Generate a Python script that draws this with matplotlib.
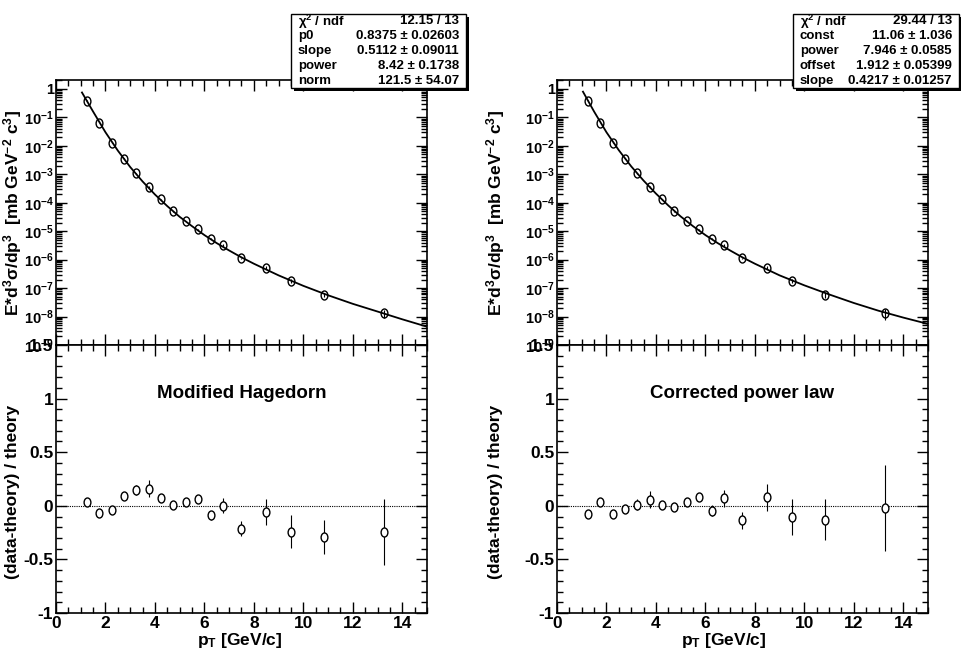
import numpy as np
import matplotlib
matplotlib.use('Agg')
import matplotlib.pyplot as plt
from matplotlib.ticker import FixedLocator, MultipleLocator, LogLocator, NullFormatter
from matplotlib.markers import MarkerStyle
from matplotlib.transforms import Affine2D
from matplotlib.patches import Rectangle

# measured points (same data in both panels)
pt = [1.25, 1.75, 2.25, 2.75, 3.25, 3.75, 4.25, 4.75, 5.25, 5.75, 6.25, 6.75,
      7.5, 8.5, 9.5, 10.85, 13.25]
xsec = [0.39, 0.064, 0.013, 3.5e-3, 1.07e-3, 3.7e-4, 1.3e-4, 5.0e-5, 2.3e-5,
        1.16e-5, 5.4e-6, 3.2e-6, 1.1e-6, 5.2e-7, 1.8e-7, 5.6e-8, 1.3e-8]

# residuals (data-theory)/theory and their errors
res_hag = [0.04, -0.063, -0.04, 0.09, 0.147, 0.159, 0.075, 0.012, 0.031, 0.059,
           -0.09, 0.0, -0.215, -0.06, -0.24, -0.29, -0.243]
err_hag = [0.02, 0.02, 0.02, 0.03, 0.05, 0.08, 0.03, 0.03, 0.03, 0.03,
           0.04, 0.07, 0.07, 0.12, 0.15, 0.16, 0.31]
res_pow = [-0.075, 0.04, -0.075, -0.031, 0.012, 0.056, 0.006, -0.012, 0.031, 0.084,
           -0.044, 0.069, -0.134, 0.078, -0.103, -0.131, -0.022]
err_pow = [0.02, 0.02, 0.02, 0.03, 0.05, 0.08, 0.03, 0.03, 0.03, 0.03,
           0.05, 0.08, 0.08, 0.13, 0.17, 0.19, 0.40]

# fit curves
curve_pt = [1.05, 1.5, 2.0, 2.5, 3.0, 3.5, 4.0, 4.5, 5.0, 5.5, 6.0, 6.5, 7.0, 7.5,
            8.0, 9.0, 10.0, 11.0, 12.0, 13.0, 14.0, 15.0]
curve_hag = [0.75, 0.16, 0.030, 6.8e-3, 1.8e-3, 5.6e-4, 1.95e-4, 7.6e-5, 3.2e-5, 1.5e-5,
             7.3e-6, 3.8e-6, 2.1e-6, 1.2e-6, 7.2e-7, 2.8e-7, 1.2e-7, 5.6e-8, 2.8e-8,
             1.5e-8, 8.0e-9, 4.4e-9]
curve_pow = [0.8, 0.16, 0.030, 7.0e-3, 1.9e-3, 6.0e-4, 2.1e-4, 8.0e-5, 3.3e-5, 1.5e-5,
             7.3e-6, 3.8e-6, 2.1e-6, 1.2e-6, 7.2e-7, 2.8e-7, 1.25e-7, 6.0e-8, 3.0e-8,
             1.6e-8, 9.2e-9, 5.5e-9]

stats_hag = [(r'$\chi^{2}$ / ndf', '12.15 / 13'), ('p0', '0.8375 ± 0.02603'),
             ('slope', '0.5112 ± 0.09011'), ('power', '8.42 ± 0.1738'),
             ('norm', '121.5 ± 54.07')]
stats_pow = [(r'$\chi^{2}$ / ndf', '29.44 / 13'), ('const', '11.06 ± 1.036'),
             ('power', '7.946 ± 0.0585'), ('offset', '1.912 ± 0.05399'),
             ('slope', '0.4217 ± 0.01257')]

titles = ['Modified Hagedorn', 'Corrected power law']

plt.rcParams['font.family'] = ['Liberation Sans', 'DejaVu Sans']
plt.rcParams['font.weight'] = 'bold'
plt.rcParams['mathtext.fontset'] = 'custom'
plt.rcParams['mathtext.rm'] = 'Liberation Sans:bold'
plt.rcParams['mathtext.it'] = 'Liberation Sans:bold'
plt.rcParams['mathtext.bf'] = 'Liberation Sans:bold'
plt.rcParams['mathtext.default'] = 'regular'

W, H = 962, 654
fig = plt.figure(figsize=(9.62, 6.54), dpi=100)


def rect(x0, y0, x1, y1):
    return [x0 / W, 1 - y1 / H, (x1 - x0) / W, (y1 - y0) / H]


circle = MarkerStyle('o', transform=Affine2D().scale(0.75, 1.0))


def frame(ax):
    for s in ax.spines.values():
        s.set_linewidth(1.2)
    ax.tick_params(which='both', direction='in', top=True, right=True, width=1,
                   labelsize=12.5, pad=2)
    ax.tick_params(which='major', length=8)
    ax.tick_params(which='minor', length=4)
    ax.set_xlim(0, 15)
    ax.xaxis.set_major_locator(MultipleLocator(2))
    ax.xaxis.set_minor_locator(MultipleLocator(0.5))


def stat_box(x0, x1, rows):
    y0, y1 = 14, 88
    fig.add_artist(Rectangle((x0 / W + 3 / W, 1 - (y1 + 3) / H), (x1 - x0) / W, (y1 - y0) / H,
                             transform=fig.transFigure, fc='k', ec='k', lw=0))
    fig.add_artist(Rectangle((x0 / W, 1 - y1 / H), (x1 - x0) / W, (y1 - y0) / H,
                             transform=fig.transFigure, fc='white', ec='k', lw=1))
    for i, (name, val) in enumerate(rows):
        y = 1 - (21.5 + 14.8 * i) / H
        fig.text((x0 + 7) / W, y, name, ha='left', va='center', fontsize=9.5)
        fig.text((x1 - 7) / W, y, val, ha='right', va='center', fontsize=9.5)


panels = [(56, 427, curve_hag, res_hag, err_hag, stats_hag, (291, 466), 13, 240),
          (557, 928, curve_pow, res_pow, err_pow, stats_pow, (793, 959), 496, 724)]

for k, (xa, xb, curve, res, err, stats, box, ylab_x, xlab_x) in enumerate(panels):
    # spectrum
    ax = fig.add_axes(rect(xa, 80, xb, 345))
    frame(ax)
    ax.errorbar(pt, xsec, yerr=np.array(xsec) * np.array(err), fmt='none',
                ecolor='k', elinewidth=0.8)
    ax.plot(pt, xsec, ls='none', marker=circle, ms=6.5, mfc='none', mec='k', mew=1)
    ax.plot(curve_pt, curve, 'k-', lw=1.3)
    ax.set_yscale('log')
    ax.set_ylim(1e-9, 2.06)
    ax.yaxis.set_major_locator(FixedLocator([10.0 ** -i for i in range(10)]))
    ax.yaxis.set_minor_locator(LogLocator(base=10, subs=np.arange(2, 10)))
    ax.yaxis.set_minor_formatter(NullFormatter())
    ax.set_yticklabels(['1'] + [r'$10^{-%d}$' % i for i in range(1, 10)])
    ax.tick_params(axis='y', labelsize=10.5, pad=1.5)
    ax.tick_params(axis='x', labelbottom=False)

    # residuals
    ax2 = fig.add_axes(rect(xa, 345, xb, 613))
    frame(ax2)
    ax2.axhline(0, color='k', ls=(0, (1, 1)), lw=0.8)
    ax2.errorbar(pt, res, yerr=err, fmt='none', ecolor='k', elinewidth=0.8)
    ax2.plot(pt, res, ls='none', marker=circle, ms=6.5, mfc='white', mec='k', mew=1)
    ax2.set_ylim(-1, 1.5)
    ax2.yaxis.set_minor_locator(MultipleLocator(0.1))
    ax2.set_yticks([-1, -0.5, 0, 0.5, 1, 1.5])
    ax2.set_yticklabels(['-1', '-0.5', '0', '0.5', '1', '1.5'])
    ax2.set_xticks(range(0, 15, 2))
    ax2.set_xticklabels([str(v) for v in range(0, 15, 2)])
    ax2.text(0.5, 0.82, titles[k], transform=ax2.transAxes, ha='center', va='center',
             fontsize=13.5)

    fig.text(ylab_x / W, 1 - 213 / H,
             r'E*d$^{3}\sigma$/dp$^{3}$  [mb GeV$^{-2}$ c$^{3}$]',
             rotation=90, ha='center', va='center', fontsize=12.5)
    fig.text(ylab_x / W, 1 - 492 / H, '(data-theory) / theory',
             rotation=90, ha='center', va='center', fontsize=12.5)
    fig.text(xlab_x / W, 1 - 641 / H, r'p$_{T}$ [GeV/c]', ha='center', va='center',
             fontsize=12.5)

    stat_box(box[0], box[1], stats)

fig.savefig('out.png', dpi=100)
